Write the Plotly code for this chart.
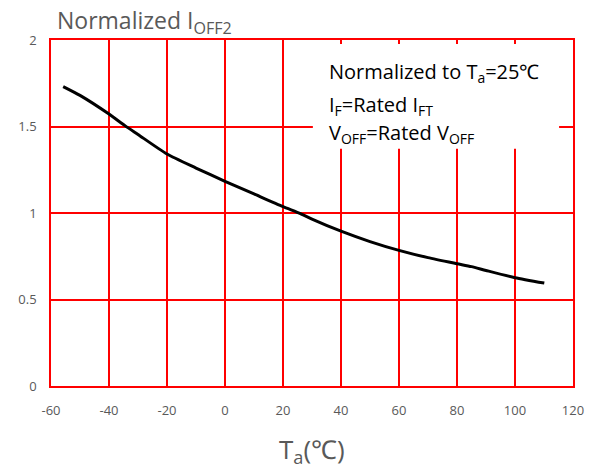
import plotly.graph_objects as go

temps = [-55.8, -50, -40, -34.5, -30, -20, -10, 0, 10, 20, 26, 30, 40, 50, 60, 70, 80, 85, 90, 100, 110.1]
ioff2 = [1.731, 1.68, 1.572, 1.505, 1.454, 1.341, 1.26, 1.183, 1.11, 1.037, 0.997, 0.965, 0.895, 0.835, 0.784, 0.742, 0.707, 0.69, 0.668, 0.626, 0.595]

x_ticks = [-60, -40, -20, 0, 20, 40, 60, 80, 100, 120]
x_labels = ["-60", "-40", "-20", "0", "20", "40", "60", "80", "100", "120"]
y_ticks = [0, 0.5, 1, 1.5, 2]
y_labels = ["0", "0.5", "1", "1.5", "2"]

FONT = "Open Sans"
GREY = "#595959"
RED = "rgb(255,0,0)"

fig = go.Figure()
fig.add_trace(go.Scatter(x=temps, y=ioff2, mode="lines",
                         line=dict(color="black", width=3, shape="spline", smoothing=0.6),
                         hoverinfo="skip", showlegend=False))

axis_common = dict(showgrid=True, gridcolor=RED, gridwidth=1.5,
                   showline=True, linecolor=RED, linewidth=1.5, mirror=True,
                   zeroline=False, ticks="", automargin=False,
                   tickfont=dict(family=FONT, size=13, color=GREY))

# page body has an 8px default margin, so the figure is 590x460 and offset by 8px
fig.update_layout(
    width=590, height=460,
    margin=dict(l=43, r=25, t=32, b=82, autoexpand=False),
    paper_bgcolor="white", plot_bgcolor="white",
    font=dict(family=FONT, color=GREY, size=13),
    showlegend=False,
    xaxis=dict(range=[-60, 120], tickvals=x_ticks, ticktext=x_labels,
               ticklabelstandoff=12, **axis_common),
    yaxis=dict(range=[0, 2], tickvals=y_ticks, ticktext=y_labels,
               ticklabelstandoff=10, **axis_common),
)

# white box covering gridlines behind the note
fig.add_shape(type="rect", xref="x", yref="y", x0=30.3, x1=115.2, y0=1.372, y1=1.977,
              fillcolor="white", line=dict(width=0), layer="above")

note_lines = [
    "Normalized to T<sub>a</sub>=25℃",
    "I<sub>F</sub>=Rated I<sub>FT</sub>",
    "V<sub>OFF</sub>=Rated V<sub>OFF</sub>",
]
note_y = [1.815, 1.624, 1.462]
for txt, yy in zip(note_lines, note_y):
    fig.add_annotation(x=35, y=yy, xref="x", yref="y", text=txt, showarrow=False,
                       xanchor="left", yanchor="middle",
                       font=dict(family=FONT, size=20, color="black"))

fig.add_annotation(x=0.0, y=1.0, xref="paper", yref="paper", xshift=4, yshift=19,
                   text="Normalized I<sub>OFF2</sub>", showarrow=False,
                   xanchor="left", yanchor="middle",
                   font=dict(family=FONT, size=23, color=GREY))
fig.add_annotation(x=0.5, y=0.0, xref="paper", yref="paper", yshift=-64,
                   text="T<sub>a</sub>(℃)", showarrow=False,
                   xanchor="center", yanchor="middle",
                   font=dict(family=FONT, size=26, color=GREY))

fig.write_html("out.html")
